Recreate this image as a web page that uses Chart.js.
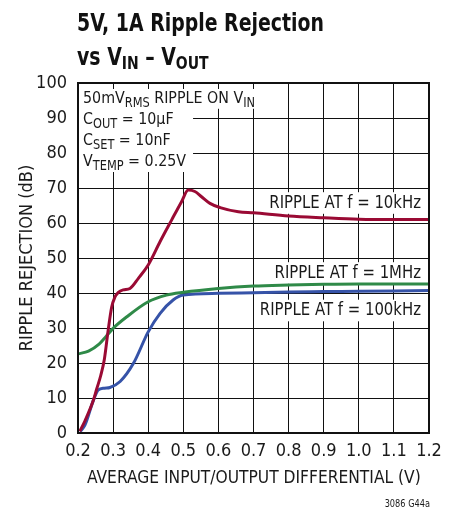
<!DOCTYPE html>
<html>
<head>
<meta charset="utf-8">
<script src="https://cdn.jsdelivr.net/npm/chart.js@4.4.1/dist/chart.umd.min.js"></script>
<style>
  html, body { margin: 0; padding: 0; background: #fff; }
  canvas { display: block; }
</style>
</head>
<body>
<canvas id="chart" width="462" height="510"></canvas>
<script>
// axis ticks
const xTicks = [0.2, 0.3, 0.4, 0.5, 0.6, 0.7, 0.8, 0.9, 1.0, 1.1, 1.2];
const xTickLabels = ['0.2', '0.3', '0.4', '0.5', '0.6', '0.7', '0.8', '0.9', '1.0', '1.1', '1.2'];
const yTicks = [0, 10, 20, 30, 40, 50, 60, 70, 80, 90, 100];

// ripple at 10kHz
const x10k = [0.205, 0.22, 0.244, 0.253, 0.265, 0.275, 0.286, 0.296, 0.305, 0.315, 0.329, 0.348, 0.372, 0.4, 0.434, 0.467, 0.495, 0.514, 0.533, 0.552, 0.576, 0.605, 0.657, 0.7, 0.8, 0.9, 1.0, 1.1, 1.2];
const y10k = [0.5, 3.5, 9.4, 12.5, 16.5, 21, 29.4, 36, 38.8, 40.2, 40.9, 41.3, 44.2, 48, 54.7, 60.9, 66.1, 69.4, 69, 67.5, 65.6, 64.4, 63.2, 62.9, 62, 61.5, 61.1, 61, 61];

// ripple at 1MHz
const x1M = [0.2, 0.23, 0.26, 0.28, 0.3, 0.339, 0.4, 0.452, 0.5, 0.6, 0.7, 0.8, 0.9, 1.0, 1.1, 1.2];
const y1M = [22.6, 23.4, 25.4, 27.6, 29.9, 33.2, 37.5, 39.4, 40.2, 41.3, 42, 42.3, 42.5, 42.6, 42.6, 42.6];

// ripple at 100kHz
const x100k = [0.206, 0.22, 0.244, 0.258, 0.275, 0.291, 0.32, 0.358, 0.4, 0.434, 0.471, 0.5, 0.6, 0.7, 0.8, 0.9, 1.0, 1.1, 1.2];
const y100k = [0.4, 2.3, 9.4, 12.3, 12.8, 13, 14.7, 19.9, 28.9, 34.2, 38, 39.4, 39.9, 40.1, 40.3, 40.4, 40.5, 40.6, 40.7];

const FONT = '"Liberation Sans Narrow", "DejaVu Sans Condensed", sans-serif';

function pts(xs, ys) {
    return xs.map((x, i) => ({ x: x, y: ys[i] }));
}

// parts = [[text, isSub], ...]; sx squeezes the text horizontally
function richWidth(ctx, parts, size, weight, sub) {
    let w = 0;
    parts.forEach(p => {
        const s = p[1] ? size * sub : size;
        ctx.font = weight + ' ' + s + 'px ' + FONT;
        w += ctx.measureText(p[0]).width;
    });
    return w;
}

function drawRich(ctx, parts, x, y, o) {
    const size = o.size, weight = o.weight || 'normal', sx = o.sx || 1;
    const sub = o.sub || 0.72, drop = o.drop || size * 0.24;
    const w = richWidth(ctx, parts, size, weight, sub) * sx;
    const left = o.align === 'right' ? x - w : x;
    if (o.box) {
        ctx.save();
        ctx.fillStyle = '#fff';
        ctx.fillRect(left - 3, y - size * 0.85, w + 6, size * 1.2);
        ctx.restore();
    }
    ctx.save();
    ctx.translate(left, y);
    ctx.scale(sx, 1);
    ctx.textAlign = 'left';
    ctx.textBaseline = 'alphabetic';
    let cx = 0;
    parts.forEach(p => {
        const s = p[1] ? size * sub : size;
        ctx.font = weight + ' ' + s + 'px ' + FONT;
        ctx.fillText(p[0], cx, p[1] ? drop : 0);
        cx += ctx.measureText(p[0]).width;
    });
    ctx.restore();
    return w;
}

const notes = [
    { parts: [['50mV'], ['RMS', 1], [' RIPPLE ON V'], ['IN', 1]], y: 103 },
    { parts: [['C'], ['OUT', 1], [' = 10µF']], y: 124.3 },
    { parts: [['C'], ['SET', 1], [' = 10nF']], y: 145 },
    { parts: [['V'], ['TEMP', 1], [' = 0.25V']], y: 165.7 }
];
const curveLabels = [
    { parts: [['RIPPLE AT f = 10kHz']], y: 207.5 },
    { parts: [['RIPPLE AT f = 1MHz']], y: 277.5 },
    { parts: [['RIPPLE AT f = 100kHz']], y: 315 }
];
const noteStyle = { size: 16.5, sx: 0.96, sub: 0.8, drop: 4, box: true };

const decor = {
    id: 'decor',
    beforeDatasetsDraw(chart) {
        const ctx = chart.ctx;
        const a = chart.chartArea;
        // one white block behind the three condition lines
        const blockW = Math.max(...notes.slice(1).map(n => richWidth(ctx, n.parts, noteStyle.size, 'normal', noteStyle.sub) * noteStyle.sx));
        ctx.fillStyle = '#fff';
        ctx.fillRect(a.left + 1, 106, 83 + blockW + 6 - a.left, 66);

        ctx.fillStyle = '#1a1a1a';
        notes.forEach(n => drawRich(ctx, n.parts, 83, n.y, noteStyle));
        curveLabels.forEach(n => drawRich(ctx, n.parts, 421, n.y, { size: 18, sx: 0.92, align: 'right', box: true }));
    },
    afterDraw(chart) {
        const ctx = chart.ctx;
        const a = chart.chartArea;
        ctx.save();
        ctx.strokeStyle = '#111';
        ctx.lineWidth = 2;
        ctx.strokeRect(a.left, a.top, a.right - a.left, a.bottom - a.top);

        ctx.fillStyle = '#111';
        drawRich(ctx, [['5V, 1A Ripple Rejection']], 77, 30.5, { size: 25, weight: 'bold', sx: 0.84 });
        drawRich(ctx, [['vs V'], ['IN', 1], [' – V'], ['OUT', 1]], 77, 64.5, { size: 25, weight: 'bold', sx: 0.84, sub: 0.74, drop: 4 });

        ctx.fillStyle = '#1a1a1a';
        drawRich(ctx, [['AVERAGE INPUT/OUTPUT DIFFERENTIAL (V)']], 87, 483, { size: 18, sx: 0.957 });

        ctx.save();
        ctx.translate(31.5, 258);
        ctx.rotate(-Math.PI / 2);
        ctx.font = '18px ' + FONT;
        ctx.textAlign = 'center';
        ctx.textBaseline = 'alphabetic';
        ctx.fillText('RIPPLE REJECTION (dB)', 0, 0);
        ctx.restore();

        drawRich(ctx, [['3086 G44a']], 430, 507, { size: 11, sx: 0.83, align: 'right' });
        ctx.restore();
    }
};

const lineStyle = { borderWidth: 3, pointRadius: 0, fill: false, cubicInterpolationMode: 'monotone', showLine: true };

new Chart(document.getElementById('chart'), {
    type: 'scatter',
    data: {
        datasets: [
            Object.assign({ label: 'RIPPLE AT f = 10kHz', data: pts(x10k, y10k), borderColor: '#9a0a34' }, lineStyle),
            Object.assign({ label: 'RIPPLE AT f = 1MHz', data: pts(x1M, y1M), borderColor: '#2f8a48' }, lineStyle),
            Object.assign({ label: 'RIPPLE AT f = 100kHz', data: pts(x100k, y100k), borderColor: '#3653a8' }, lineStyle)
        ]
    },
    options: {
        responsive: false,
        animation: false,
        layout: { padding: { top: 83, right: 33, left: 0, bottom: 0 } },
        plugins: { legend: { display: false }, tooltip: { enabled: false } },
        scales: {
            x: {
                type: 'linear',
                min: 0.2,
                max: 1.2,
                afterFit: s => { s.height = 77; },
                afterBuildTicks: s => { s.ticks = xTicks.map(v => ({ value: v })); },
                grid: { color: '#111', lineWidth: 1, drawTicks: false },
                border: { display: false },
                ticks: {
                    color: '#1a1a1a',
                    font: { family: FONT, size: 18 },
                    padding: 8,
                    maxRotation: 0,
                    autoSkip: false,
                    callback: (v, i) => xTickLabels[i]
                }
            },
            y: {
                min: 0,
                max: 100,
                afterFit: s => { s.width = 78; },
                afterBuildTicks: s => { s.ticks = yTicks.map(v => ({ value: v })); },
                grid: { color: '#111', lineWidth: 1, drawTicks: false },
                border: { display: false },
                ticks: {
                    color: '#1a1a1a',
                    font: { family: FONT, size: 18 },
                    padding: 11,
                    autoSkip: false,
                    callback: v => String(v)
                }
            }
        }
    },
    plugins: [decor]
});
</script>
</body>
</html>
